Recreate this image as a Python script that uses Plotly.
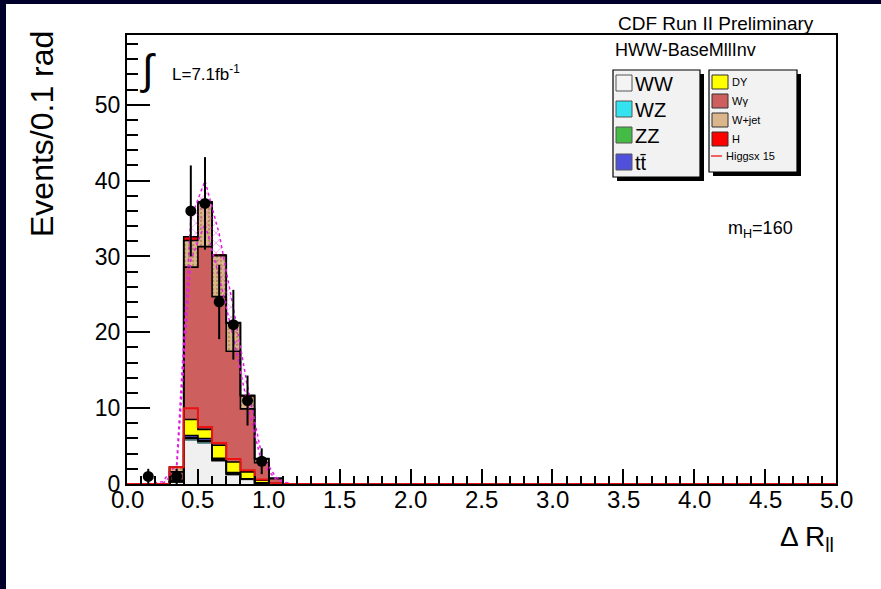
import numpy as np
import plotly.graph_objects as go

# ---- histogram content (bins of 0.1 in Delta R_ll, non-empty region 0.3-1.1) ----
bin_lo = [0.3, 0.4, 0.5, 0.6, 0.7, 0.8, 0.9, 1.0]
bin_width = 0.1

ww = [0.3, 5.8, 5.4, 3.0, 1.2, 0.6, 0.15, 0.0]
wz = [0.0, 0.2, 0.2, 0.15, 0.1, 0.05, 0.0, 0.0]
zz = [0.0, 0.1, 0.1, 0.05, 0.05, 0.0, 0.0, 0.0]
ttbar = [0.0, 0.3, 0.3, 0.2, 0.15, 0.05, 0.0, 0.0]
dy = [0.2, 2.1, 1.2, 1.7, 1.4, 0.9, 0.35, 0.1]
wgamma = [1.1, 20.1, 24.1, 19.6, 14.6, 8.3, 2.3, 0.6]
wjet = [0.6, 3.5, 5.8, 5.4, 3.7, 1.7, 0.5, 0.05]
higgs = [0.0, 0.5, 0.1, 0.1, 0.1, 0.1, 0.05, 0.0]
higgs_x15 = [2.2, 10.0, 7.5, 5.4, 3.3, 1.8, 0.6, 0.1]

# background uncertainty band, evaluated at bin centres
band_x = [0.15, 0.25, 0.35, 0.45, 0.55, 0.65, 0.75, 0.85, 0.95, 1.05, 1.15]
band_hi = [0.0, 0.3, 2.6, 35.0, 40.0, 33.0, 23.2, 12.9, 3.8, 0.9, 0.0]
band_lo = [0.0, 0.0, 1.8, 29.5, 34.3, 27.3, 19.3, 10.4, 2.8, 0.6, 0.0]

# observed data
data_x = [0.15, 0.35, 0.45, 0.55, 0.65, 0.75, 0.85, 0.95]
data_y = [1, 1, 36, 37, 24, 21, 11, 3]
data_err = [1.0, 1.0, 6.0, 6.1, 4.9, 4.6, 3.3, 1.7]

x_ticks = [0.0, 0.5, 1.0, 1.5, 2.0, 2.5, 3.0, 3.5, 4.0, 4.5, 5.0]
y_ticks = [0, 10, 20, 30, 40, 50]

# ---- canvas geometry (pixels) ----
FIG_W, FIG_H = 881, 589
L, R, T, B = 127, 836, 35, 484
PW, PH = R - L, B - T
FONT = "Liberation Sans, Arial, Helvetica, sans-serif"


def px(x):
    return (x - L) / PW


def py(y):
    return (B - y) / PH


centers = [lo + bin_width / 2 for lo in bin_lo]

layers = [
    ("WW", ww, "#f0f0f0", "#777777"),
    ("WZ", wz, "#33e3f0", "black"),
    ("ZZ", zz, "#44bb44", "black"),
    ("tt", ttbar, "#5050dd", "black"),
    ("DY", dy, "#ffff00", "black"),
    ("Wγ", wgamma, "#cd5f5f", "black"),
    ("W+jet", wjet, "#dab68a", "black"),
    ("H", higgs, "#ff0000", "black"),
]

fig = go.Figure()

# stacked filled bars
for name, vals, fill, _ in layers:
    kw = {}
    if name == "W+jet":
        kw = dict(pattern=dict(shape=".", fgcolor="#b8905f", bgcolor=fill,
                               size=4, solidity=0.25, fillmode="replace"))
    fig.add_trace(go.Bar(
        x=centers, y=vals, width=bin_width, name=name,
        marker=dict(color=fill, line=dict(width=0), **kw),
        showlegend=False, hoverinfo="skip",
    ))


def step_xy(lo_edges, vals, width, x_start=None, x_end=None):
    xs, ys = [], []
    if x_start is not None:
        xs += [x_start]
        ys += [0]
    xs.append(lo_edges[0])
    ys.append(0)
    for lo, v in zip(lo_edges, vals):
        xs += [lo, lo + width]
        ys += [v, v]
    xs.append(lo_edges[-1] + width)
    ys.append(0)
    if x_end is not None:
        xs.append(x_end)
        ys.append(0)
    return xs, ys


# step outlines of each cumulative layer
cum = np.zeros(len(bin_lo))
for name, vals, _, edge in layers:
    cum = cum + np.array(vals)
    sx, sy = step_xy(bin_lo, list(cum), bin_width)
    fig.add_trace(go.Scatter(
        x=sx, y=sy, mode="lines", line=dict(color=edge, width=1.6),
        showlegend=False, hoverinfo="skip",
    ))

# background uncertainty band (cross-hatched)
fig.add_trace(go.Scatter(
    x=band_x + band_x[::-1], y=band_hi + band_lo[::-1],
    mode="lines", fill="toself", fillcolor="rgba(0,0,0,0)",
    fillpattern=dict(shape="x", fgcolor="#e020e0", bgcolor="rgba(0,0,0,0)",
                     size=7, solidity=0.2),
    line=dict(color="#e020e0", width=1.5, dash="dot"),
    showlegend=False, hoverinfo="skip",
))

# signal x15 as red outline across the full range
hx, hy = step_xy(bin_lo, higgs_x15, bin_width, x_start=0.0, x_end=5.0)
fig.add_trace(go.Scatter(
    x=hx, y=hy, mode="lines", line=dict(color="#ee1111", width=2),
    showlegend=False, hoverinfo="skip",
))

# data points
fig.add_trace(go.Scatter(
    x=data_x, y=data_y, mode="markers",
    marker=dict(color="black", size=11),
    error_y=dict(type="data", array=data_err, color="black", thickness=2, width=0),
    showlegend=False, hoverinfo="skip",
))

shapes = []
annotations = []

# dark page border (left and top)
shapes.append(dict(type="rect", xref="paper", yref="paper", layer="above",
                   x0=px(0), x1=px(6), y0=py(FIG_H), y1=py(0),
                   fillcolor="#00002a", line=dict(width=0)))
shapes.append(dict(type="rect", xref="paper", yref="paper", layer="above",
                   x0=px(0), x1=px(FIG_W), y0=py(4), y1=py(0),
                   fillcolor="#00002a", line=dict(width=0)))


def box(x0, y0, x1, y1, fill, line_color="black", lw=1.2):
    shapes.append(dict(type="rect", xref="paper", yref="paper", layer="above",
                       x0=px(x0), x1=px(x1), y0=py(y1), y1=py(y0),
                       fillcolor=fill, line=dict(color=line_color, width=lw)))


def text(x, y, s, size, xanchor="left", yanchor="middle", angle=0):
    annotations.append(dict(xref="paper", yref="paper", x=px(x), y=py(y),
                            text=s, showarrow=False, xanchor=xanchor,
                            yanchor=yanchor, textangle=angle,
                            font=dict(family=FONT, size=size, color="black")))


# x tick labels, placed just under the axis
for v in x_ticks:
    annotations.append(dict(xref="x", yref="paper", x=v, y=py(499),
                            text=f"{v:.1f}", showarrow=False,
                            xanchor="center", yanchor="middle",
                            font=dict(family=FONT, size=24, color="black")))

# legend panels with drop shadows
box(617, 74, 704, 181, "black", "black", 0)
box(613, 70, 700, 177, "#f2f2f2")
box(713, 74, 801, 176, "black", "black", 0)
box(709, 70, 797, 172, "#f2f2f2")

left_entries = [("WW", "#f4f4f4", 83), ("WZ", "#33e3f0", 109),
                ("ZZ", "#44bb44", 135), ("tt\u0304", "#5050dd", 162)]
for label, col, yc in left_entries:
    box(616, yc - 8, 632, yc + 8, col, "#555555", 1)
    text(633, yc + 1, label, 20)

right_entries = [("DY", "#ffff00", 82), ("Wγ", "#cd5f5f", 101),
                 ("W+jet", "#dab68a", 120), ("H", "#ff0000", 139)]
for label, col, yc in right_entries:
    box(712, yc - 7, 728, yc + 7, col, "#333333", 1)
    text(730, yc, label, 11)
shapes.append(dict(type="line", xref="paper", yref="paper", layer="above",
                   x0=px(711), x1=px(722), y0=py(156), y1=py(156),
                   line=dict(color="#ee3333", width=1.5)))
text(724, 156, "Higgsx 15", 11)

# labels
text(816, 24, "CDF Run II Preliminary", 19, xanchor="right")
text(613, 50, "HWW-BaseMllInv", 18)
text(148, 70, "∫", 42, xanchor="center")
text(170, 73, "L=7.1fb<sup>-1</sup>", 17)
text(726, 229, "m<sub>H</sub>=160", 18)

# axis titles
text(42, 29, "Events/0.1 rad", 32, xanchor="center", yanchor="top", angle=-90)
text(836, 538, "Δ R<sub>ll</sub>", 28, xanchor="right")

fig.update_layout(
    width=FIG_W, height=FIG_H,
    margin=dict(l=L, r=FIG_W - R, t=T, b=FIG_H - B),
    paper_bgcolor="white", plot_bgcolor="white",
    barmode="stack", bargap=0,
    font=dict(family=FONT, color="black"),
    shapes=shapes, annotations=annotations,
    xaxis=dict(range=[0, 5], tickvals=x_ticks, showticklabels=False,
               ticks="inside", ticklen=15, tickwidth=1.8, tickcolor="black",
               minor=dict(ticks="inside", dtick=0.1, ticklen=8, tickwidth=1.5,
                          tickcolor="black"),
               showline=True, linecolor="black", linewidth=2, mirror=True,
               showgrid=False, zeroline=False),
    yaxis=dict(range=[0, 59.2], tickvals=y_ticks,
               ticks="inside", ticklen=23, tickwidth=1.8, tickcolor="black",
               minor=dict(ticks="inside", dtick=2, ticklen=11, tickwidth=1.5,
                          tickcolor="black"),
               showline=True, linecolor="black", linewidth=2, mirror=True,
               showgrid=False, zeroline=False,
               tickfont=dict(size=23, family=FONT)),
)

fig.write_html("out.html")
